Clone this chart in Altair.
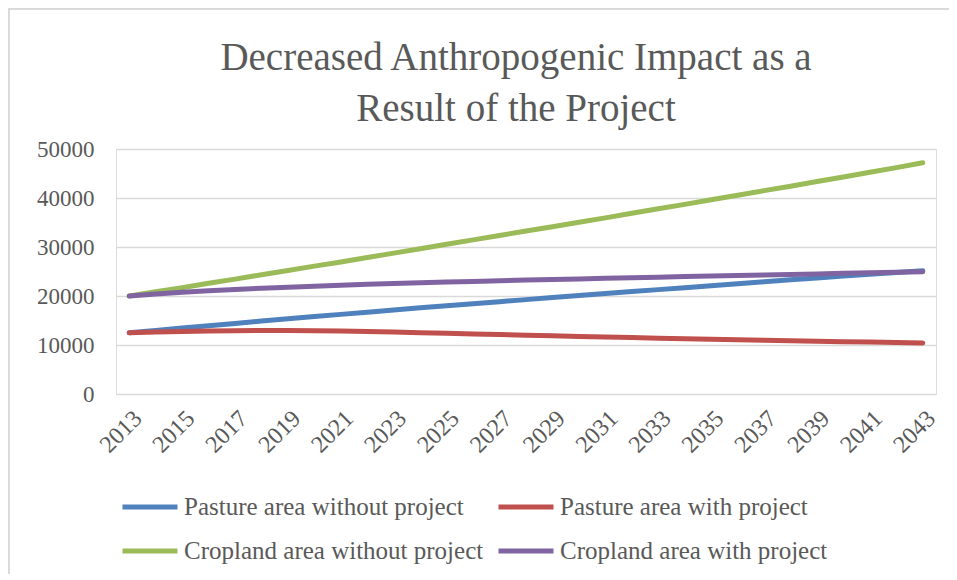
import altair as alt
import pandas as pd

years = list(range(2013, 2044))
series_names = [
    "Pasture area without project",
    "Pasture area with project",
    "Cropland area without project",
    "Cropland area with project",
]
pasture_without = [12500, 12980, 13460, 13940, 14410, 14880, 15340, 15800, 16250, 16700,
                   17150, 17580, 18010, 18430, 18850, 19260, 19670, 20080, 20490, 20900,
                   21300, 21700, 22100, 22500, 22900, 23300, 23690, 24080, 24460, 24800, 25150]
pasture_with = [12500, 12650, 12780, 12870, 12930, 12960, 12960, 12920, 12850, 12750,
                12640, 12520, 12400, 12270, 12140, 12010, 11880, 11750, 11630, 11510,
                11390, 11280, 11170, 11060, 10960, 10860, 10770, 10680, 10590, 10500, 10400]
cropland_without = [20000, 20850, 21700, 22600, 23450, 24350, 25200, 26100, 26950, 27850,
                    28750, 29650, 30550, 31450, 32350, 33250, 34150, 35050, 35950, 36900,
                    37800, 38700, 39650, 40550, 41500, 42400, 43350, 44300, 45250, 46200, 47200]
cropland_with = [20000, 20400, 20750, 21050, 21330, 21580, 21800, 22010, 22200, 22380,
                 22550, 22700, 22840, 22980, 23110, 23240, 23370, 23490, 23610, 23730,
                 23850, 23960, 24070, 24180, 24290, 24400, 24510, 24620, 24730, 24840, 24950]
colors = ["#4F81BD", "#C0504D", "#9BBB59", "#8064A2"]
x_tick_years = list(range(2013, 2044, 2))
y_ticks = [0, 10000, 20000, 30000, 40000, 50000]

rows = []
for name, vals in zip(series_names, [pasture_without, pasture_with, cropland_without, cropland_with]):
    for yr, v in zip(years, vals):
        rows.append({"Year": yr, "Value": v, "Series": name, "order": series_names.index(name)})
df = pd.DataFrame(rows)

FONT = "Liberation Serif"
GRAY = "#595959"

lines = alt.Chart(df).mark_line(strokeWidth=5, strokeCap="round", strokeJoin="round").encode(
    x=alt.X("Year:Q", scale=alt.Scale(domain=[2012.5, 2043.5], nice=False, zero=False),
            axis=alt.Axis(values=x_tick_years, format="d", labelAngle=-45, grid=False,
                          ticks=False, domain=False, labelFont=FONT, labelFontSize=24,
                          labelColor=GRAY, labelPadding=12, title=None)),
    y=alt.Y("Value:Q", scale=alt.Scale(domain=[0, 50000], nice=False),
            axis=alt.Axis(values=y_ticks, format="d", grid=True, gridColor="#D9D9D9",
                          gridWidth=1.5, ticks=False, domain=False, labelFont=FONT,
                          labelFontSize=23, labelColor=GRAY, labelPadding=22, title=None)),
    color=alt.Color("Series:N", scale=alt.Scale(domain=series_names, range=colors),
                    legend=alt.Legend(title=None, orient="none", legendX=4, legendY=328,
                                      direction="horizontal", columns=2,
                                      symbolType="stroke", symbolSize=3025,
                                      symbolStrokeWidth=5, labelFont=FONT, labelFontSize=25,
                                      labelColor=GRAY, labelLimit=400, columnPadding=4,
                                      rowPadding=1, symbolOffset=0, labelOffset=4, padding=0)),
    detail="order:O",
)

frame_top = alt.Chart(df).mark_rule(color="#D9D9D9", strokeWidth=1.5).encode(
    x=alt.value(-108), x2=alt.value(833), y=alt.value(-140.5))
frame_left = alt.Chart(df).mark_rule(color="#D9D9D9", strokeWidth=1.5).encode(
    x=alt.value(-107.5), y=alt.value(-140.5), y2=alt.value(425))

chart = alt.layer(frame_top, frame_left, lines).properties(
    width=820,
    height=245,
    title=alt.TitleParams(
        text=["Decreased Anthropogenic Impact as a", "Result of the Project"],
        font=FONT, fontSize=39, fontWeight="normal", color=GRAY, anchor="middle",
        frame="group", baseline="alphabetic", lineHeight=51, offset=0, dy=152, dx=-10),
    autosize=alt.AutoSizeParams(type="none"),
    padding={"left": 108, "top": 141, "right": 13, "bottom": 186},
).configure_view(stroke=None).configure(background="white")

chart.save("out.html", embed_options={"renderer": "svg", "actions": False})
